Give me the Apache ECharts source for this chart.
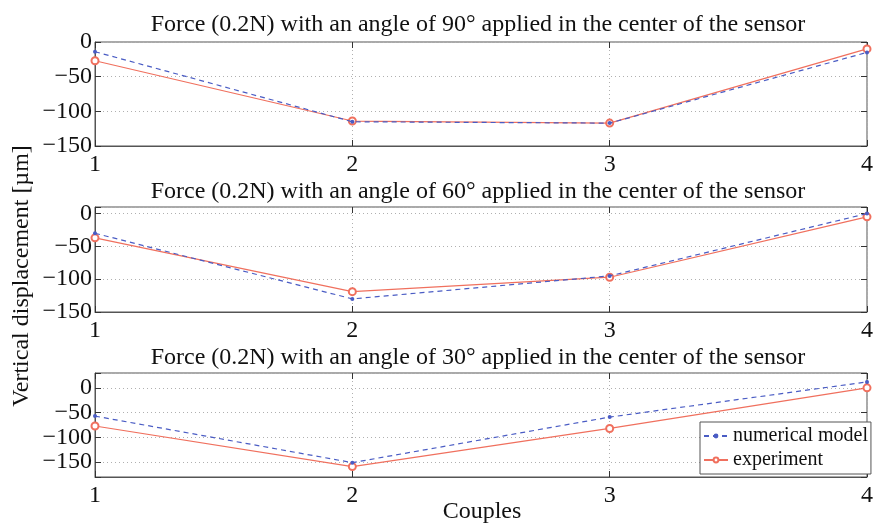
<!DOCTYPE html>
<html>
<head>
<meta charset="utf-8">
<script src="https://cdn.jsdelivr.net/npm/echarts@6/dist/echarts.min.js"></script>
<style>
  html, body { margin: 0; padding: 0; background: #fff; }
  #chart { width: 876px; height: 524px; }
</style>
</head>
<body>
<div id="chart"></div>
<script>
// x positions (couples)
const couples = [1, 2, 3, 4]

// 90 degree panel
const num90 = [-14, -115, -117, -15]
const exp90 = [-27, -114, -117, -10]
// 60 degree panel
const num60 = [-30, -130, -95, 0]
const exp60 = [-37, -119, -97, -5]
// 30 degree panel
const num30 = [-57, -151, -59, 12]
const exp30 = [-77, -159, -82, 0]

const titles = [
  'Force (0.2N) with an angle of 90° applied in the center of the sensor',
  'Force (0.2N) with an angle of 60° applied in the center of the sensor',
  'Force (0.2N) with an angle of 30° applied in the center of the sensor'
]
const yRanges = [[-150, 0], [-150, 10], [-180, 30]]
const yTicks = [-150, -100, -50, 0]

const FONT = '"Liberation Serif", "DejaVu Serif", serif'
const BLUE = '#4a5cc4'
const RED = '#f0705e'
const GRIDC = '#b0b0b0'

const chart = echarts.init(document.getElementById('chart'), null, { renderer: 'canvas' })

const grids = [
  { left: 95, top: 42, width: 774, height: 104 },
  { left: 95, top: 207, width: 774, height: 105 },
  { left: 95, top: 373, width: 774, height: 104 }
]
const titleTops = [13, 180, 346]

const pts = arr => arr.map((v, i) => [couples[i], v])
const numData = [num90, num60, num30]
const expData = [exp90, exp60, exp30]

const xAxis = []
const yAxis = []
const series = []

// y tick spacing: panel 3 has a non-multiple min, so let echarts pick nice ticks
const yScale = i => i === 2 ? { splitNumber: 4 } : { interval: 50 }

grids.forEach((g, i) => {
  const tick = { show: true, inside: true, length: 6, lineStyle: { color: '#333' } }
  xAxis.push({
    type: 'value', gridIndex: i, min: 1, max: 4, interval: 1, position: 'bottom',
    axisLine: { show: true, onZero: false, lineStyle: { color: '#555', width: 1 } },
    axisTick: tick,
    axisLabel: { color: '#111', fontFamily: FONT, fontSize: 24, margin: 7 },
    splitLine: { show: true, lineStyle: { color: GRIDC, type: [1, 3], width: 1 } }
  })
  xAxis.push({
    type: 'value', gridIndex: i, min: 1, max: 4, interval: 1, position: 'top',
    axisLine: { show: false, onZero: false }, axisTick: tick,
    axisLabel: { show: false }, splitLine: { show: false }
  })
  yAxis.push({
    type: 'value', gridIndex: i, min: yRanges[i][0], max: yRanges[i][1], ...yScale(i),
    position: 'left',
    axisLine: { show: true, onZero: false, lineStyle: { color: '#555', width: 1 } },
    axisTick: tick,
    axisLabel: {
      color: '#111', fontFamily: FONT, fontSize: 24, margin: 3,
      formatter: v => yTicks.includes(v) ? String(v).replace('-', '\u2212') : ''
    },
    splitLine: { show: true, lineStyle: { color: GRIDC, type: [1, 3], width: 1 } }
  })
  yAxis.push({
    type: 'value', gridIndex: i, min: yRanges[i][0], max: yRanges[i][1], ...yScale(i),
    position: 'right',
    axisLine: { show: false, onZero: false }, axisTick: tick,
    axisLabel: { show: false }, splitLine: { show: false }
  })
  series.push({
    name: 'numerical model', type: 'line', xAxisIndex: 2 * i, yAxisIndex: 2 * i,
    data: pts(numData[i]), symbol: 'circle', symbolSize: 4,
    lineStyle: { color: BLUE, width: 1.2, type: [5, 4] },
    itemStyle: { color: BLUE }, z: 3
  })
  series.push({
    name: 'experiment', type: 'line', xAxisIndex: 2 * i, yAxisIndex: 2 * i,
    data: pts(expData[i]), symbol: 'emptyCircle', symbolSize: 7,
    lineStyle: { color: RED, width: 1.2 },
    itemStyle: { color: RED, borderWidth: 1 }, z: 2
  })
})

chart.setOption({
  backgroundColor: '#fff',
  animation: false,
  title: titles.map((t, i) => ({
    text: t, left: 478, top: titleTops[i], textAlign: 'center', padding: 0,
    textStyle: { fontFamily: FONT, fontSize: 24, fontWeight: 'normal', color: '#111' }
  })),
  grid: grids.map(g => ({ ...g, show: true, borderColor: '#555', borderWidth: 1, backgroundColor: 'transparent' })),
  xAxis,
  yAxis,
  legend: {
    data: ['numerical model', 'experiment'],
    left: 700, top: 422, orient: 'vertical',
    itemWidth: 24, itemHeight: 6, itemGap: 4,
    padding: [4, 3, 4, 3],
    backgroundColor: '#fff', borderColor: '#555', borderWidth: 1,
    textStyle: { fontFamily: FONT, fontSize: 20, color: '#111' }
  },
  graphic: [
    {
      type: 'text', x: 22, y: 276, rotation: Math.PI / 2,
      style: { text: 'Vertical displacement [µm]', fill: '#111', font: '24px ' + FONT, textAlign: 'center', textVerticalAlign: 'middle' }
    },
    {
      type: 'text', x: 482, y: 512,
      style: { text: 'Couples', fill: '#111', font: '24px ' + FONT, textAlign: 'center', textVerticalAlign: 'middle' }
    }
  ],
  series
})
</script>
</body>
</html>
